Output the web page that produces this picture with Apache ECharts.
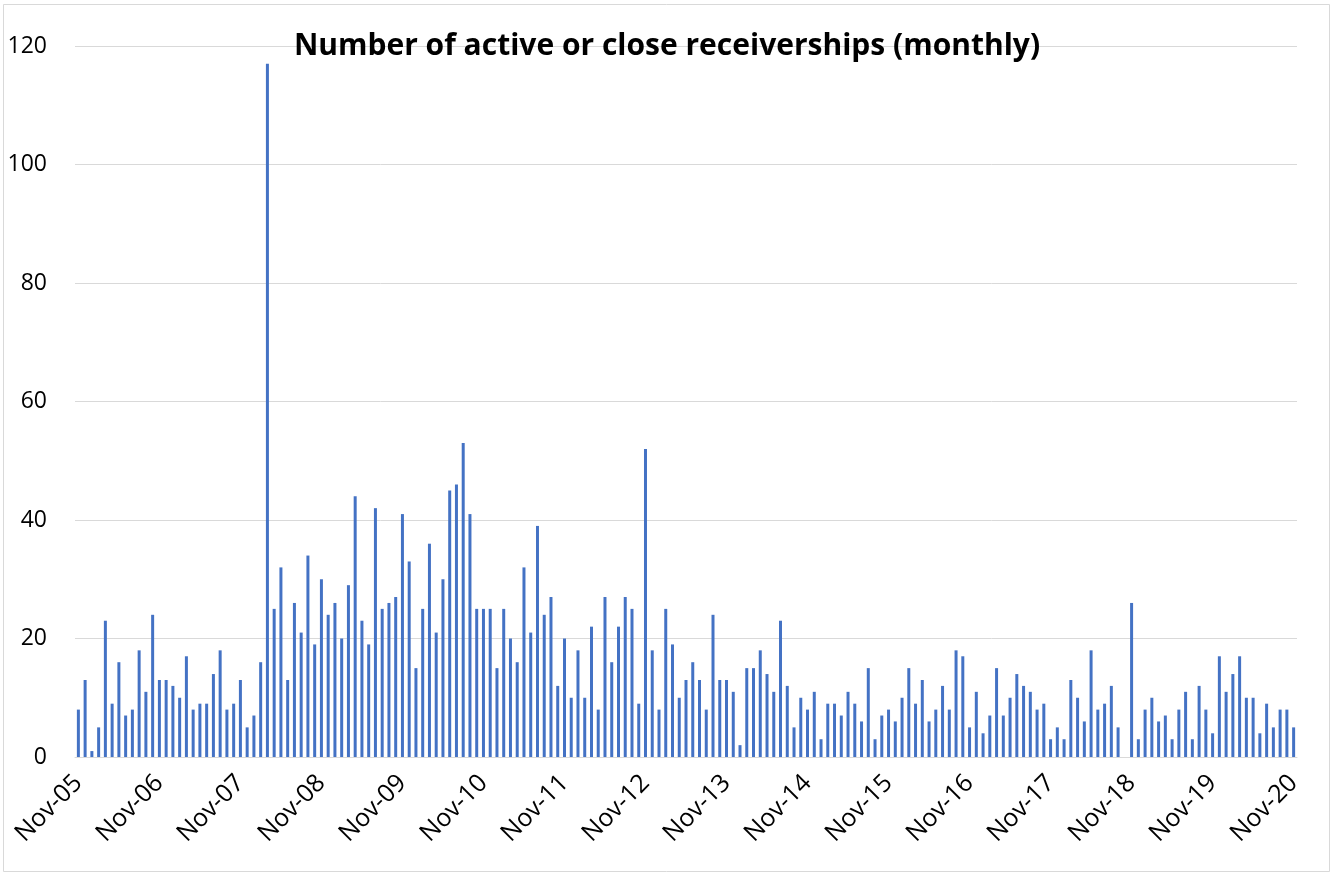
<!DOCTYPE html>
<html>
<head>
<meta charset="utf-8">
<script src="https://cdn.jsdelivr.net/npm/echarts@6/dist/echarts.min.js"></script>
<style>
html,body{margin:0;padding:0;background:#fff;}
#chart{width:1334px;height:877px;}
</style>
</head>
<body>
<div id="chart"></div>
<script>
const startYear = 2005;
const monthCount = 181; // Nov-05 .. Nov-20
const monthNames = ['Jan','Feb','Mar','Apr','May','Jun','Jul','Aug','Sep','Oct','Nov','Dec'];
const categories = [];
for (let i = 0; i < monthCount; i++) {
  const m = (10 + i) % 12;
  const y = startYear + Math.floor((10 + i) / 12);
  categories.push(monthNames[m] + '-' + String(y % 100).padStart(2, '0'));
}
const receiverships = [
  8,13,1,5,23,9,16,7,8,18,11,24,13,13,12,10,17,8,9,9,14,18,8,9,13,5,7,16,
  117,
  25,32,13,26,21,34,19,30,24,26,20,29,44,23,19,42,25,26,27,41,33,15,25,36,21,30,45,46,53,41,
  25,25,25,15,25,20,16,32,21,39,24,27,12,20,10,18,10,22,8,27,16,22,27,25,9,52,18,8,25,19,
  10,13,16,13,8,24,13,13,11,2,15,15,18,14,11,23,12,5,10,8,11,3,9,9,7,11,9,6,15,3,
  7,8,6,10,15,9,13,6,8,12,8,18,17,5,11,4,7,15,7,10,14,12,11,8,9,3,5,3,13,10,
  6,18,8,9,12,5,0,26,3,8,10,6,7,3,8,11,3,12,8,4,17,11,14,17,10,10,4,9,5,8,8,5
];
const yTicks = [0, 20, 40, 60, 80, 100, 120];
const titleText = 'Number of active or close receiverships (monthly)';

const chart = echarts.init(document.getElementById('chart'));
chart.setOption({
  animation: false,
  backgroundColor: '#ffffff',
  title: {
    text: titleText,
    left: 'center',
    top: 26,
    textStyle: {fontFamily: 'Open Sans', fontWeight: 'bold', fontSize: 30, color: '#000'}
  },
  graphic: [{
    type: 'rect',
    shape: {x: 3.5, y: 4.5, width: 1326, height: 867},
    style: {fill: 'none', stroke: '#d9d9d9', lineWidth: 1},
    silent: true
  }],
  grid: {left: 75, right: 37, top: 46, bottom: 120, containLabel: false},
  xAxis: {
    type: 'category',
    data: categories,
    boundaryGap: true,
    axisLine: {show: true, lineStyle: {color: '#d9d9d9'}},
    axisTick: {show: false},
    axisLabel: {
      interval: 11,
      rotate: 45,
      margin: 22,
      fontFamily: 'Open Sans',
      fontSize: 25,
      color: '#000'
    }
  },
  yAxis: {
    type: 'value',
    min: yTicks[0],
    max: yTicks[yTicks.length - 1],
    interval: 20,
    axisLine: {show: false},
    axisTick: {show: false},
    splitLine: {lineStyle: {color: '#d9d9d9', width: 1}},
    axisLabel: {
      margin: 28,
      fontFamily: 'Open Sans',
      fontSize: 23,
      color: '#000'
    }
  },
  series: [{
    type: 'bar',
    data: receiverships,
    barWidth: 3,
    itemStyle: {color: '#4472C4'}
  }]
});
</script>
</body>
</html>
